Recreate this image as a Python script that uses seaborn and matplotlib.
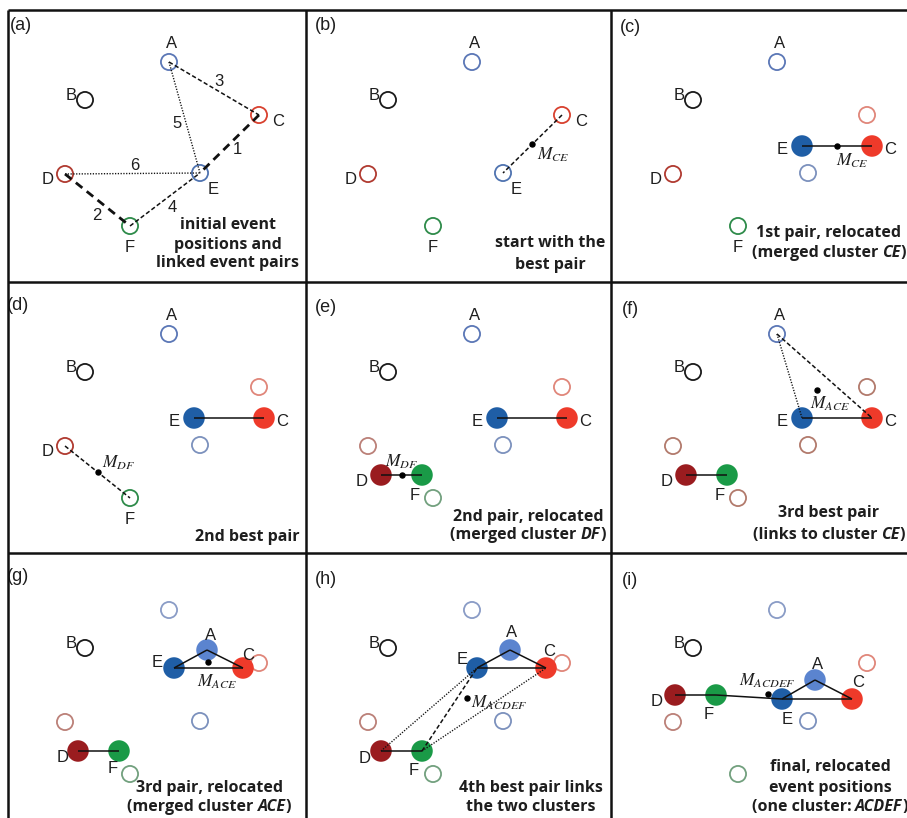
import numpy as np
import pandas as pd
import matplotlib
matplotlib.use("Agg")
import matplotlib.pyplot as plt
import seaborn as sns

sns.set_style("white")
plt.rcParams["font.family"] = ["Liberation Sans", "DejaVu Sans"]
plt.rcParams["mathtext.fontset"] = "stix"

# ---------------- event data (panel pixel coordinates, y downwards) ----------------
events = ["A", "B", "C", "D", "E", "F"]
initial_x = [166, 82, 256, 62, 197, 127]
initial_y = [52, 90, 105, 164, 163, 216]

# relocated positions after each merge step
ce_events = ["C", "E"]
ce_x = [261, 191]
ce_y = [136, 136]

df_events = ["D", "F"]
df_x = [75, 116]
df_y = [193, 193]

ace_events = ["A", "C", "E"]
ace_x = [204, 240, 171]
ace_y = [92, 110, 110]

final_events = ["A", "C", "D", "E", "F"]
final_x = [204, 241, 64, 171, 105]
final_y = [122, 141, 137, 141, 137]

# linked event pairs ranked by quality
pair_rank = [1, 2, 3, 4, 5, 6]
pair_first = ["C", "D", "A", "F", "A", "D"]
pair_second = ["E", "F", "C", "E", "E", "E"]

panel_tags = ["(a)", "(b)", "(c)", "(d)", "(e)", "(f)", "(g)", "(h)", "(i)"]
captions = [
    ["initial event", "positions and", "linked event pairs"],
    ["start with the", "best pair"],
    ["1st pair, relocated", "(merged cluster *CE*)"],
    ["2nd best pair"],
    ["2nd pair, relocated", "(merged cluster *DF*)"],
    ["3rd best pair", "(links to cluster *CE*)"],
    ["3rd pair, relocated", "(merged cluster *ACE*)"],
    ["4th best pair links", "the two clusters"],
    ["final, relocated", "event positions", "(one cluster: *ACDEF*)"],
]

init = {e: (x, y) for e, x, y in zip(events, initial_x, initial_y)}
ce = {e: (x, y) for e, x, y in zip(ce_events, ce_x, ce_y)}
dfp = {e: (x, y) for e, x, y in zip(df_events, df_x, df_y)}
ace = {e: (x, y) for e, x, y in zip(ace_events, ace_x, ace_y)}
fin = {e: (x, y) for e, x, y in zip(final_events, final_x, final_y)}

# ---------------- styling ----------------
normal_col = {"A": "#5b77b6", "B": "#1a1a1a", "C": "#d8412f", "D": "#b03a30",
              "E": "#4f73b0", "F": "#2e8b4a"}
ghost_col = {"A": "#8a9cc6", "C": "#e0867a", "D": "#bb8078", "E": "#7c91bd",
             "F": "#72a07e"}
brown_ghost = "#b27a6c"
filled_col = {"A": "#5b84cf", "C": "#ee3a2a", "D": "#9a1c1f", "E": "#1f5ea6",
              "F": "#1a9a47"}
TXT = "#1e1e1e"
CAPTION_FONT = ["Open Sans", "DejaVu Sans"]

W, H = 907, 818
fig = plt.figure(figsize=(W / 100, H / 100), dpi=100)
renderer = fig.canvas.get_renderer()

col_x0 = [3, 306, 611]
row_y0 = [10, 282, 558]
PW, PH = 300, 270


def make_panel(i):
    r, c = divmod(i, 3)
    x0, y0 = col_x0[c], row_y0[r]
    ax = fig.add_axes([x0 / W, 1 - (y0 + PH) / H, PW / W, PH / H])
    ax.set_xlim(0, PW)
    ax.set_ylim(PH, 0)
    ax.axis("off")
    return ax


def open_pts(ax, names, pos, colors):
    d = pd.DataFrame({"x": [pos[n][0] for n in names], "y": [pos[n][1] for n in names]})
    sns.scatterplot(data=d, x="x", y="y", ax=ax, s=135, marker="o",
                    facecolor="none", edgecolor=[colors[n] for n in names],
                    linewidth=1.3, zorder=2, clip_on=False)


def filled_pts(ax, names, pos):
    d = pd.DataFrame({"x": [pos[n][0] for n in names], "y": [pos[n][1] for n in names]})
    sns.scatterplot(data=d, x="x", y="y", ax=ax, s=240, marker="o",
                    color=[filled_col[n] for n in names], linewidth=0,
                    zorder=3, clip_on=False)


LINK_STYLE = {
    "solid": dict(lw=1.1, ls="-"),
    "bolddash": dict(lw=2.0, dashes=(3.0, 2.0)),
    "dash": dict(lw=1.1, dashes=(2.8, 1.6)),
    "dot": dict(lw=1.0, dashes=(0.9, 1.1)),
}


def link(ax, p, q, style):
    ax.plot([p[0], q[0]], [p[1], q[1]], color="#111111", zorder=4,
            clip_on=False, solid_capstyle="butt", **LINK_STYLE[style])


def centre_dot(ax, pts):
    m = np.mean(np.array(pts, dtype=float), axis=0)
    ax.plot([m[0]], [m[1]], "o", color="black", ms=3.6, zorder=5, clip_on=False)
    return m


def mlabel(ax, m, sub, dx, dy, ha="left"):
    ax.text(m[0] + dx, m[1] + dy, r"$M_{%s}$" % sub, fontsize=12.5, color=TXT,
            ha=ha, va="center", zorder=6)


def elabel(ax, name, pos, off):
    x, y = pos[name]
    ax.text(x + off[0], y + off[1], name, fontsize=12, color=TXT,
            ha="center", va="center", zorder=6)


def text_width(s, italic, fs):
    t = fig.text(0, 0, s + "|", fontsize=fs, fontweight="bold",
                 fontstyle="italic" if italic else "normal", family=CAPTION_FONT)
    w1 = t.get_window_extent(renderer).width
    t.set_text("|")
    w2 = t.get_window_extent(renderer).width
    t.remove()
    return w1 - w2


def caption(ax, lines, cx, ys, fs=11.5):
    for line, y in zip(lines, ys):
        parts = line.split("*")
        pieces = [(p, k % 2 == 1) for k, p in enumerate(parts) if p]
        widths = [text_width(p, it, fs) for p, it in pieces]
        x = cx - sum(widths) / 2
        for (p, it), w in zip(pieces, widths):
            ax.text(x, y, p, fontsize=fs, fontweight="bold",
                    fontstyle="italic" if it else "normal", family=CAPTION_FONT,
                    color=TXT, ha="left", va="center", zorder=6)
            x += w


orig_off = {"A": (3, -18), "B": (-14, -4), "C": (19, 7), "D": (-17, 6),
            "E": (13, 16), "F": (0, 21)}
tag_pos = [(7, 15), (9, 15), (9, 17), (4, 23), (9, 25), (11, 28), (4, 19), (9, 22), (11, 23)]
caption_cx = [225, 244, 218, 244, 222, 218, 206, 225, 219]
caption_ys = [[215, 235, 253], [233, 255], [223, 243], [255], [235, 253],
              [231, 253], [230, 249], [230, 249], [209, 230, 249]]
rank_style = {1: "bolddash", 2: "bolddash", 3: "dash", 4: "dash", 5: "dot", 6: "dot"}
rank_label_pos = {1: (234, 140), 2: (94, 205), 3: (216, 72), 4: (169, 197),
                  5: (174, 113), 6: (132, 155)}

axes = [make_panel(i) for i in range(9)]

# (a) initial positions and linked pairs
ax = axes[0]
open_pts(ax, events, init, normal_col)
for rk, a, b in zip(pair_rank, pair_first, pair_second):
    link(ax, init[a], init[b], rank_style[rk])
    lx, ly = rank_label_pos[rk]
    ax.text(lx, ly, str(rk), fontsize=12, color=TXT, ha="center", va="center", zorder=6)
for e in events:
    elabel(ax, e, init, orig_off[e])

# (b) best pair
ax = axes[1]
open_pts(ax, events, init, normal_col)
link(ax, init["C"], init["E"], "dash")
m = centre_dot(ax, [init["C"], init["E"]])
mlabel(ax, m, "CE", 5, 11)
for e in events:
    elabel(ax, e, init, orig_off[e])

# (c) first pair relocated
ax = axes[2]
open_pts(ax, ["A", "B", "D", "F"], init, normal_col)
open_pts(ax, ["C", "E"], init, ghost_col)
filled_pts(ax, ce_events, ce)
link(ax, ce["E"], ce["C"], "solid")
m = centre_dot(ax, [ce["C"], ce["E"]])
mlabel(ax, m, "CE", -1, 15)
for e in ["A", "B", "D", "F"]:
    elabel(ax, e, init, orig_off[e])
elabel(ax, "E", ce, (-20, 3))
elabel(ax, "C", ce, (18, 3))

# (d) second best pair
ax = axes[3]
open_pts(ax, ["A", "B", "D", "F"], init, normal_col)
open_pts(ax, ["C", "E"], init, ghost_col)
filled_pts(ax, ce_events, ce)
link(ax, ce["E"], ce["C"], "solid")
link(ax, init["D"], init["F"], "dash")
m = centre_dot(ax, [init["D"], init["F"]])
mlabel(ax, m, "DF", 5, -9)
for e in ["A", "B", "D", "F"]:
    elabel(ax, e, init, orig_off[e])
elabel(ax, "E", ce, (-20, 3))
elabel(ax, "C", ce, (18, 3))

# (e) second pair relocated
ax = axes[4]
open_pts(ax, ["A", "B"], init, normal_col)
open_pts(ax, ["C", "E", "D", "F"], init, ghost_col)
filled_pts(ax, ce_events, ce)
filled_pts(ax, df_events, dfp)
link(ax, ce["E"], ce["C"], "solid")
link(ax, dfp["D"], dfp["F"], "solid")
m = centre_dot(ax, [dfp["D"], dfp["F"]])
mlabel(ax, m, "DF", 0, -13, ha="center")
for e in ["A", "B"]:
    elabel(ax, e, init, orig_off[e])
elabel(ax, "E", ce, (-20, 3))
elabel(ax, "C", ce, (18, 3))
elabel(ax, "D", dfp, (-19, 7))
elabel(ax, "F", dfp, (-7, 20))

# (f) third best pair links to cluster CE
ax = axes[5]
open_pts(ax, ["A", "B"], init, normal_col)
open_pts(ax, ["C", "E", "D", "F"], init, {k: brown_ghost for k in "CDEF"})
filled_pts(ax, ce_events, ce)
filled_pts(ax, df_events, dfp)
link(ax, ce["E"], ce["C"], "solid")
link(ax, dfp["D"], dfp["F"], "solid")
link(ax, init["A"], ce["E"], "dot")
link(ax, init["A"], ce["C"], "dash")
m = centre_dot(ax, [init["A"], ce["E"], ce["C"]])
mlabel(ax, m, "ACE", -7, 14)
for e in ["A", "B"]:
    elabel(ax, e, init, orig_off[e])
elabel(ax, "E", ce, (-20, 3))
elabel(ax, "C", ce, (18, 3))
elabel(ax, "D", dfp, (-19, 7))
elabel(ax, "F", dfp, (-7, 20))

# (g) third pair relocated
ax = axes[6]
open_pts(ax, ["B"], init, normal_col)
open_pts(ax, ["A", "C", "D", "E", "F"], init, ghost_col)
filled_pts(ax, ace_events, ace)
filled_pts(ax, df_events, dfp)
link(ax, ace["E"], ace["A"], "solid")
link(ax, ace["A"], ace["C"], "solid")
link(ax, ace["E"], ace["C"], "solid")
link(ax, dfp["D"], dfp["F"], "solid")
m = centre_dot(ax, [ace[e] for e in ace_events])
mlabel(ax, m, "ACE", -11, 20)
elabel(ax, "B", init, orig_off["B"])
elabel(ax, "A", ace, (4, -14))
elabel(ax, "C", ace, (5, -12))
elabel(ax, "E", ace, (-17, -5))
elabel(ax, "D", dfp, (-15, 7))
elabel(ax, "F", dfp, (-6, 18))

# (h) fourth best pair links the two clusters
ax = axes[7]
open_pts(ax, ["B"], init, normal_col)
open_pts(ax, ["A", "C", "D", "E", "F"], init, ghost_col)
filled_pts(ax, ace_events, ace)
filled_pts(ax, df_events, dfp)
link(ax, ace["E"], ace["A"], "solid")
link(ax, ace["A"], ace["C"], "solid")
link(ax, ace["E"], ace["C"], "solid")
link(ax, dfp["D"], dfp["F"], "solid")
link(ax, dfp["D"], ace["E"], "dot")
link(ax, dfp["F"], ace["E"], "dash")
link(ax, dfp["F"], ace["C"], "dot")
m = centre_dot(ax, [ace[e] for e in ace_events] + [dfp[e] for e in df_events])
mlabel(ax, m, "ACDEF", 4, 5)
elabel(ax, "B", init, orig_off["B"])
elabel(ax, "A", ace, (2, -17))
elabel(ax, "C", ace, (3, -16))
elabel(ax, "E", ace, (-15, -8))
elabel(ax, "D", dfp, (-16, 8))
elabel(ax, "F", dfp, (-8, 20))

# (i) final relocated positions
ax = axes[8]
open_pts(ax, ["B"], init, normal_col)
open_pts(ax, ["A", "C", "D", "E", "F"], init, ghost_col)
filled_pts(ax, final_events, fin)
link(ax, fin["D"], fin["F"], "solid")
link(ax, fin["F"], fin["E"], "solid")
link(ax, fin["E"], fin["A"], "solid")
link(ax, fin["A"], fin["C"], "solid")
link(ax, fin["E"], fin["C"], "solid")
m = centre_dot(ax, [fin[e] for e in final_events])
mlabel(ax, m, "ACDEF", -1, -13, ha="center")
elabel(ax, "B", init, orig_off["B"])
elabel(ax, "D", fin, (-18, 7))
elabel(ax, "F", fin, (-7, 20))
elabel(ax, "E", fin, (5, 21))
elabel(ax, "A", fin, (3, -15))
elabel(ax, "C", fin, (6, -16))

for i, ax in enumerate(axes):
    tx, ty = tag_pos[i]
    ax.text(tx, ty, panel_tags[i], fontsize=13, color=TXT, ha="left", va="center")
    caption(ax, captions[i], caption_cx[i], caption_ys[i])

# panel frame
frame = fig.add_axes([0, 0, 1, 1], zorder=10)
frame.set_xlim(0, W)
frame.set_ylim(H, 0)
frame.axis("off")
frame.patch.set_alpha(0)
for yy in [10, 282, 553]:
    frame.plot([8, W], [yy, yy], color="#111111", lw=1.8, solid_capstyle="butt")
for xx in [8, 306, 611]:
    frame.plot([xx, xx], [10, H], color="#111111", lw=1.8, solid_capstyle="butt")

fig.savefig("out.png", dpi=100)
